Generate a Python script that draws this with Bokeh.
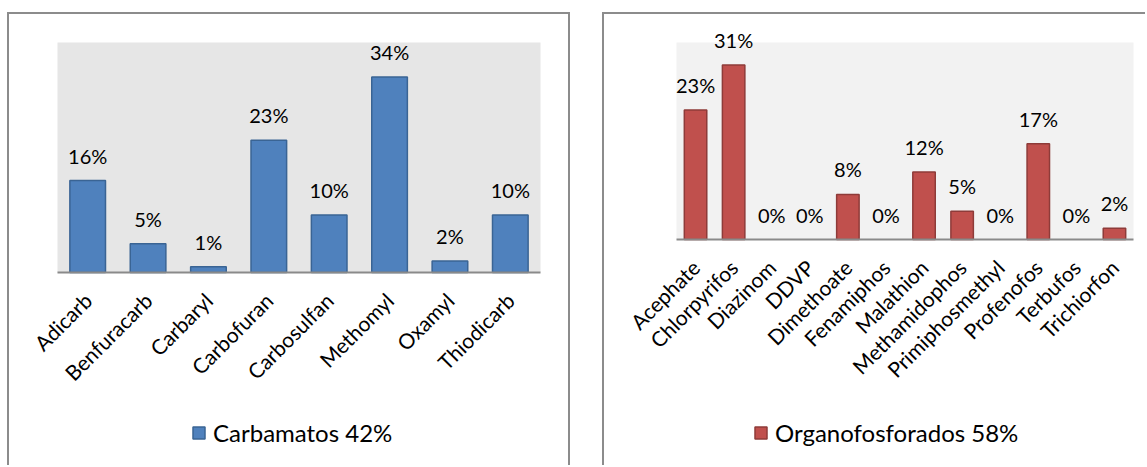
import math
from bokeh.plotting import figure
from bokeh.models import (ColumnDataSource, Legend, LegendItem, Range1d,
                          BoxAnnotation, FixedTicker)
from bokeh.layouts import row
from bokeh.embed import file_html
from bokeh.resources import INLINE
from bokeh.core.properties import value

# ---- data ----
carb_names = ["Adicarb", "Benfuracarb", "Carbaryl", "Carbofuran",
              "Carbosulfan", "Methomyl", "Oxamyl", "Thiodicarb"]
carb_values = [16, 5, 1, 23, 10, 34, 2, 10]
carb_legend = "Carbamatos 42%"

org_names = ["Acephate", "Chlorpyrifos", "Diazinom", "DDVP", "Dimethoate",
             "Fenamiphos", "Malathion", "Methamidophos", "Primiphosmethyl",
             "Profenofos", "Terbufos", "Trichiorfon"]
org_values = [23, 31, 0, 0, 8, 0, 12, 5, 0, 17, 0, 2]
org_legend = "Organofosforados 58%"

FONT = "Lato"
BORDER = "2px solid #8c8c8c"
CANVAS_H = 453
TOP = 28


def panel(names, values, fill, line, bg, legend_text, ymax, plot_h,
          width, left_px, plot_w, leg_loc, css, margin):
    n = len(names)
    # pixel layout of the grey plotting area inside the canvas
    xu = plot_w / n
    x0 = -0.5 - left_px / xu
    x1 = n - 0.5 + (width - left_px - plot_w) / xu
    yu = plot_h / ymax
    y0 = -(CANVAS_H - TOP - plot_h) / yu
    y1 = ymax + TOP / yu

    xs = list(range(n))
    labels = [f"{v}%" for v in values]
    outline = [0.0 if v == 0 else 1.0 for v in values]
    src = ColumnDataSource(dict(x=xs, top=values, lab=labels, la=outline))
    p = figure(x_range=Range1d(x0, x1), y_range=Range1d(y0, y1),
               width=width, height=CANVAS_H, output_backend="svg",
               toolbar_location=None, y_axis_location=None,
               min_border_left=0, min_border_right=0,
               min_border_top=0, min_border_bottom=0)
    p.background_fill_color = "white"
    p.border_fill_color = "white"
    p.outline_line_color = None
    p.xgrid.grid_line_color = None
    p.ygrid.grid_line_color = None
    p.add_layout(BoxAnnotation(left=-0.5, right=n - 0.5, bottom=0, top=ymax,
                               fill_color=bg, fill_alpha=1,
                               line_color=None, level="underlay"))
    r = p.vbar(x="x", top="top", width=0.59, source=src, fill_color=fill,
               line_color=line, line_width=1.5, line_alpha="la")
    p.text(x="x", y="top", text="lab", source=src, text_align="center",
           text_baseline="bottom", y_offset=-13,
           text_font=value(FONT), text_font_size="20px", text_color="black")
    ax = p.xaxis[0]
    ax.fixed_location = 0
    ax.bounds = (-0.5, n - 0.5)
    ax.ticker = FixedTicker(ticks=xs)
    ax.major_label_overrides = {i: nm for i, nm in zip(xs, names)}
    ax.axis_line_color = "#8a8a8a"
    ax.axis_line_width = 2
    ax.major_tick_line_color = None
    ax.minor_tick_line_color = None
    ax.major_tick_out = 0
    ax.major_tick_in = 0
    ax.major_label_orientation = math.pi / 4
    ax.major_label_standoff = 24
    ax.major_label_text_font = FONT
    ax.major_label_text_font_size = "21px"
    ax.major_label_text_color = "black"
    leg = Legend(items=[LegendItem(label=legend_text, renderers=[r])],
                 location=leg_loc, padding=0, margin=0, spacing=0,
                 glyph_width=15, glyph_height=15, label_standoff=7,
                 border_line_color=None, background_fill_alpha=0,
                 label_text_font=FONT, label_text_font_size="24px",
                 label_text_color="black")
    p.add_layout(leg, "center")
    p.styles = css
    p.margin = margin
    return p


p1 = panel(carb_names, carb_values, "#4F81BD", "#3A6494", "#E6E6E6",
           carb_legend, 40, 230, 563, 48, 483, (182, 20),
           {"border-top": BORDER, "border-left": BORDER, "border-right": BORDER},
           (12, 0, 0, 7))
p2 = panel(org_names, org_values, "#C0504D", "#8E3B39", "#F2F2F2",
           org_legend, 35, 197, 543, 72, 457, (149, 20),
           {"border-top": BORDER, "border-left": BORDER},
           (12, 0, 0, 32))

layout = row(p1, p2, spacing=0)
open("out.html", "w").write(file_html(layout, INLINE))
